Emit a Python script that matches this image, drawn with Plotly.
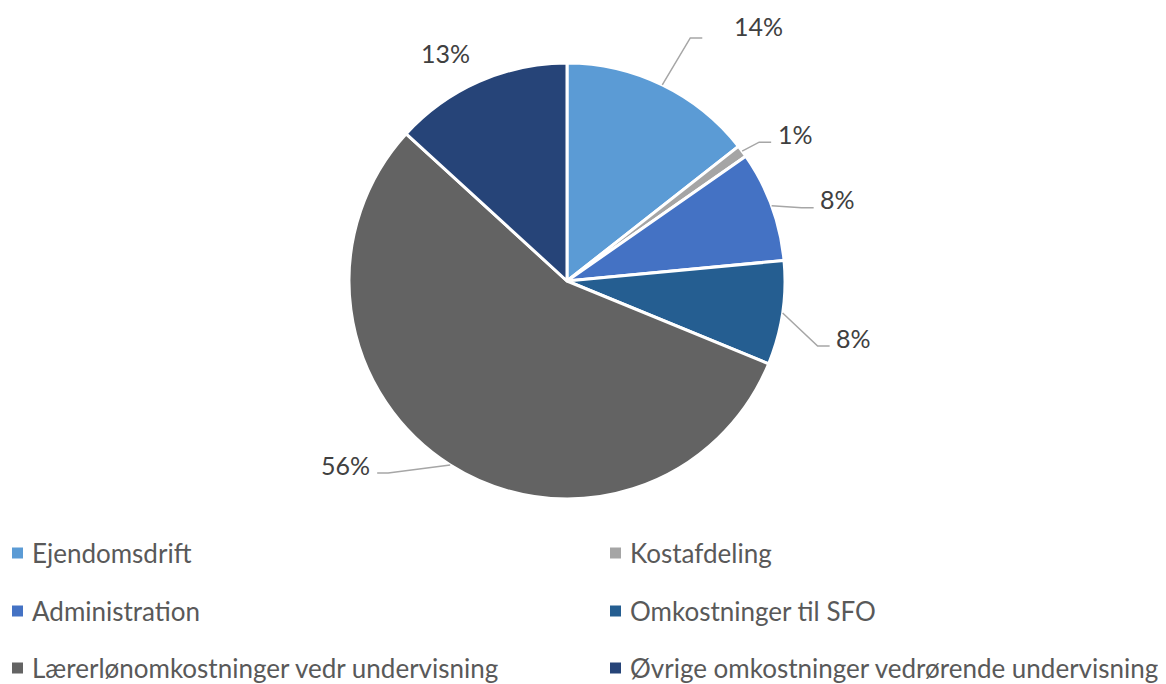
import math
import plotly.graph_objects as go

# ---- data ----
categories = ["Ejendomsdrift", "Kostafdeling", "Administration",
              "Omkostninger til SFO", "Lærerlønomkostninger vedr undervisning",
              "Øvrige omkostninger vedrørende undervisning"]
values = [14.4, 0.9, 8.2, 7.7, 55.6, 13.2]
colors = ["#5B9BD5", "#A5A5A5", "#4472C4", "#255E91", "#636363", "#264478"]

# ---- layout helpers (page pixels -> paper); the page body has an 8px margin ----
W, H = 1166, 684
OFF = 8
FW, FH = W - OFF, H - OFF
def px(x): return (x - OFF) / FW
def py(y): return 1 - (y - OFF) / FH

CX, CY, R = 567, 281, 218
FONT = "Lato"

# per-slice label styling: elbow offset from slice edge, horizontal run, text offset
elbow_d = [(28, -47), (17, -9), (30, 2), (35, 33), (-62, 8), None]
h_run = [12, 12, 12, 12, -11, 0]
text_off = [(30, -12), (5, -8), (4, -9), (4, -8), (-5, -8), (-18, 7)]
free_rf = 1.18  # radial factor for labels placed without a leader

fig = go.Figure(go.Pie(
    labels=categories, values=values, sort=False, direction="clockwise",
    rotation=0, textinfo="none", hoverinfo="label+percent",
    marker=dict(colors=colors, line=dict(color="white", width=3)),
    domain=dict(x=[px(CX - R), px(CX + R)], y=[py(CY + R), py(CY - R)]),
    showlegend=False,
))

shapes, annotations = [], []
total = sum(values)
cum = 0.0
for i, v in enumerate(values):
    mid = (cum + v / 2) / total * 2 * math.pi
    cum += v
    sx, sy = CX + R * math.sin(mid), CY - R * math.cos(mid)
    pct = f"{round(v / total * 100):.0f}%"
    lab_font = dict(family=FONT, size=25, color="#404040")
    dx, dy = text_off[i]
    if elbow_d[i] is not None:
        ex, ey = sx + elbow_d[i][0], sy + elbow_d[i][1]
        hx = ex + h_run[i]
        right = h_run[i] >= 0
        shapes.append(dict(
            type="path", xref="paper", yref="paper",
            path=f"M {px(sx)},{py(sy)} L {px(ex)},{py(ey)} L {px(hx)},{py(ey)}",
            line=dict(color="#A6A6A6", width=1.5)))
        annotations.append(dict(
            x=px(hx + dx), y=py(ey + dy), xref="paper", yref="paper", text=pct,
            showarrow=False, xanchor="left" if right else "right", yanchor="middle",
            font=lab_font))
    else:
        tx, ty = CX + R * free_rf * math.sin(mid), CY - R * free_rf * math.cos(mid)
        annotations.append(dict(
            x=px(tx + dx), y=py(ty + dy), xref="paper", yref="paper", text=pct,
            showarrow=False, xanchor="center", yanchor="middle", font=lab_font))

# ---- legend (two columns, row-major) ----
col_x = [12, 610]
row_y = [553, 611, 668]
for i, (name, c) in enumerate(zip(categories, colors)):
    x0 = col_x[i % 2]
    y0 = row_y[i // 2]
    shapes.append(dict(type="rect", xref="paper", yref="paper",
                       x0=px(x0), x1=px(x0 + 11), y0=py(y0 + 5.5), y1=py(y0 - 5.5),
                       fillcolor=c, line=dict(width=0)))
    annotations.append(dict(
        x=px(x0 + 18), y=py(y0), xref="paper", yref="paper", text=name,
        showarrow=False, xanchor="left", yanchor="middle",
        font=dict(family=FONT, size=26, color="#595959")))

fig.update_layout(
    width=FW, height=FH, margin=dict(l=0, r=0, t=0, b=0),
    paper_bgcolor="white", plot_bgcolor="white",
    shapes=shapes, annotations=annotations,
)
fig.write_html("out.html")
